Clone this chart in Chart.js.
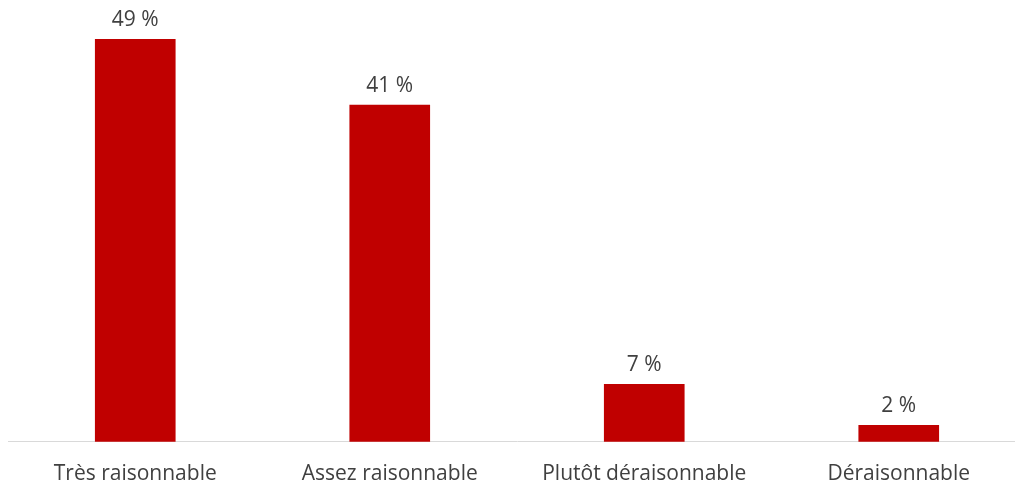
<!DOCTYPE html>
<html>
<head>
<meta charset="utf-8">
<script src="https://cdn.jsdelivr.net/npm/chart.js@4/dist/chart.umd.min.js"></script>
<style>
  html, body { margin: 0; padding: 0; background: #fff; overflow: hidden; }
  #wrap { width: 1026px; height: 499px; }
</style>
</head>
<body>
<div id="wrap"><canvas id="myChart"></canvas></div>
<script>
const categories = ['Très raisonnable', 'Assez raisonnable', 'Plutôt déraisonnable', 'Déraisonnable'];
const values = [49, 41, 7, 2];

// Writes "NN %" just above each bar
const valueLabels = {
    id: 'valueLabels',
    afterDatasetsDraw(chart) {
        const ctx = chart.ctx;
        const meta = chart.getDatasetMeta(0);
        ctx.save();
        ctx.font = '21px "Open Sans", sans-serif';
        ctx.fillStyle = '#404040';
        ctx.textAlign = 'center';
        ctx.textBaseline = 'alphabetic';
        meta.data.forEach((bar, i) => {
            ctx.fillText(values[i] + ' %', bar.x, bar.y - 13);
        });
        ctx.restore();
    }
};

document.addEventListener('DOMContentLoaded', function () {
    const ctx = document.getElementById('myChart').getContext('2d');
    new Chart(ctx, {
        type: 'bar',
        data: {
            labels: categories,
            datasets: [{
                data: values,
                backgroundColor: '#C00000',
                barThickness: 80
            }]
        },
        options: {
            responsive: true,
            maintainAspectRatio: false,
            animation: false,
            layout: { padding: { left: 8, right: 0, top: 0, bottom: 0 } },
            plugins: {
                legend: { display: false },
                tooltip: { enabled: false }
            },
            scales: {
                x: {
                    grid: { display: false },
                    border: { color: '#d9d9d9', width: 1 },
                    ticks: {
                        color: '#404040',
                        padding: 12,
                        font: { family: '"Open Sans", sans-serif', size: 21 }
                    }
                },
                y: {
                    display: false,
                    min: 0,
                    max: 53.8
                }
            }
        },
        plugins: [valueLabels]
    });
});
</script>
</body>
</html>
